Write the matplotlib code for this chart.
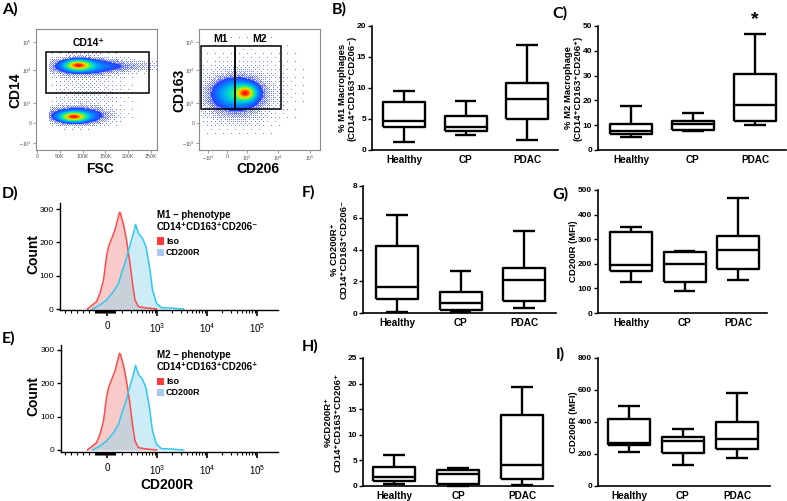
import numpy as np
import matplotlib
matplotlib.use('Agg')
import matplotlib.pyplot as plt
from matplotlib.patches import Rectangle
from matplotlib.colors import LinearSegmentedColormap, to_rgba

plt.rcParams['font.family'] = ['Liberation Sans', 'DejaVu Sans']
plt.rcParams['mathtext.fontset'] = 'custom'
plt.rcParams['mathtext.rm'] = 'Liberation Sans'

# ---------------- data ----------------
groups = ['Healthy', 'CP', 'PDAC']
# each group: [whisker low, Q1, median, Q3, whisker high]
m1_pct = [[1.34, 3.75, 4.72, 7.67, 9.54], [2.47, 3.00, 3.70, 5.47, 7.88], [1.55, 4.93, 8.15, 10.83, 17.0]]
m2_pct = [[5.2, 6.4, 7.8, 10.3, 17.7], [7.5, 8.0, 10.5, 11.5, 14.9], [9.9, 11.8, 18.2, 30.8, 46.6]]
cd200r_m1_pct = [[0.04, 0.88, 1.63, 4.19, 6.18], [0.06, 0.17, 0.63, 1.34, 2.66], [0.34, 0.75, 2.09, 2.81, 5.17]]
cd200r_m1_mfi = [[128, 170, 197, 328, 351], [89, 126, 200, 246, 254], [134, 178, 255, 311, 468]]
cd200r_m2_pct = [[0.46, 0.91, 1.70, 3.66, 6.0], [0.07, 0.46, 2.42, 3.07, 3.52], [0.13, 1.44, 4.11, 13.84, 19.4]]
cd200r_m2_mfi = [[213, 257, 269, 418, 499], [134, 207, 282, 305, 357], [173, 232, 296, 399, 580]]

# histogram curves (x in decade units: 0 -> "0", 1 -> 10^3, 2 -> 10^4, 3 -> 10^5)
iso_u = [-0.39, -0.21, -0.14, -0.07, -0.01, 0.03, 0.16, 0.25, 0.27, 0.34, 0.39, 0.46, 0.51, 0.56, 0.63, 0.79, 0.99]
iso_count = [0, 22, 47, 87, 157, 187, 237, 290, 287, 247, 207, 137, 77, 27, 7, 3, 0]
cd200r_u = [-0.29, -0.14, -0.01, 0.13, 0.23, 0.29, 0.38, 0.46, 0.53, 0.57, 0.63, 0.71, 0.78, 0.85, 0.91, 0.99, 1.09, 1.26, 1.53]
cd200r_count = [0, 12, 27, 52, 77, 107, 147, 192, 227, 254, 227, 212, 187, 127, 57, 17, 4, 3, 0]
hist_ticks = [0, 1, 2, 3]
hist_ticklabels = ['0', r'$10^3$', r'$10^4$', r'$10^5$']

# flow cytometry density clusters: (x centre, y centre, sd x, sd y, weight)
fsc_ticks = [0, 50, 100, 150, 200, 250]
fsc_labels = ['0', '50K', '100K', '150K', '200K', '250K']
bi_ticks = [7, 27, 47, 80, 108]
bi_labels = [r'$-10^3$', '0', r'$10^3$', r'$10^4$', r'$10^5$']
cd206_ticks = [9, 28, 48, 79, 111]
cd206_labels = [r'$-10^3$', '0', r'$10^3$', r'$10^4$', r'$10^5$']
cd14_clusters = [(90, 85, 18, 3.2, 1.0), (100, 84, 45, 5.5, 0.42), (195, 84, 50, 4.0, 0.12),
                 (80, 33, 18, 3.0, 1.0), (88, 34, 42, 5.5, 0.42), (110, 58, 60, 13, 0.05)]
cd163_clusters = [(47, 57, 6, 4.5, 1.0), (38, 57, 14, 9, 0.55), (35, 52, 22, 15, 0.2), (50, 68, 35, 30, 0.03)]
cd14_gate = (20, 57, 246, 98)
m1_gate = (2, 41, 36, 104)
m2_gate = (36, 41, 82, 104)

# ---------------- layout helpers ----------------
W, H = 787, 501
fig = plt.figure(figsize=(W / 100, H / 100), dpi=100)


def axes_px(x0, y0, x1, y1):
    return fig.add_axes([x0 / W, 1 - y1 / H, (x1 - x0) / W, (y1 - y0) / H])


def ftext(x, y, s, **kw):
    return fig.text(x / W, 1 - y / H, s, **kw)


BOLD = dict(fontweight='bold')

# ---------------- panel letters ----------------
for lab, x, y in [('A)', 2, 2), ('B)', 332, 2), ('C)', 552, 6), ('D)', 2, 186), ('E)', 2, 331),
                  ('F)', 302, 185), ('G)', 552, 187), ('H)', 302, 339), ('I)', 556, 347)]:
    ftext(x, y, lab, family=['Lato', 'DejaVu Sans'], fontsize=11.5, fontweight='bold', va='top', ha='left')

# ---------------- flow density plots ----------------
dens_cmap = LinearSegmentedColormap.from_list('flow', [
    (0.0, '#4a58ff'), (0.3, '#2a3cff'), (0.45, '#0090ff'), (0.58, '#00d8d0'),
    (0.68, '#30f070'), (0.78, '#b8f000'), (0.86, '#ffc800'), (0.93, '#ff6a00'), (1.0, '#ff1000')])
dot_rgba = to_rgba('#7080ff')

bayer4 = np.array([[0, 8, 2, 10], [12, 4, 14, 6], [3, 11, 1, 9], [15, 7, 13, 5]])
bayer8 = np.block([[4 * bayer4, 4 * bayer4 + 2], [4 * bayer4 + 3, 4 * bayer4 + 1]])
bayer8 = (bayer8 + 0.5) / 64.0


def density_img(ax, xlim, ylim, clusters, npx, xmin_cut=None):
    xs = np.linspace(xlim[0], xlim[1], npx)
    ys = np.linspace(ylim[0], ylim[1], npx)
    xg, yg = np.meshgrid(xs, ys)
    Z = np.zeros_like(xg)
    for cx, cy, sx, sy, w in clusters:
        Z += w * np.exp(-0.5 * (((xg - cx) / sx) ** 2 + ((yg - cy) / sy) ** 2))
    if xmin_cut is not None:
        Z = Z * (xg > xmin_cut)
    Zc = (Z / Z.max()) ** 0.6
    T = 0.3
    thr = np.tile(bayer8, (npx // 8 + 1, npx // 8 + 1))[:npx, :npx]
    solid = Zc >= T
    dots = (~solid) & ((Zc / T) ** 2.4 > thr)
    rgba = dens_cmap(np.clip(Zc, 0, 1))
    rgba[dots] = dot_rgba
    rgba[..., 3] = np.where(solid | dots, 1.0, 0.0)
    ax.imshow(rgba, extent=(xlim[0], xlim[1], ylim[0], ylim[1]), origin='lower',
              aspect='auto', interpolation='nearest')


def flow_axes(ax):
    for s in ax.spines.values():
        s.set_color('#8a8a8a')
        s.set_linewidth(0.8)
    ax.tick_params(length=2, width=0.6, color='#8a8a8a', labelsize=3.8, labelcolor='#555555', pad=1)


ax = axes_px(36, 29, 157, 150)
density_img(ax, (-2, 263), (0, 121), cd14_clusters, 121, xmin_cut=25)
ax.add_patch(Rectangle((cd14_gate[0], cd14_gate[1]), cd14_gate[2] - cd14_gate[0], cd14_gate[3] - cd14_gate[1],
                       fill=False, ec='black', lw=1.1))
ax.set_xlim(-2, 263)
ax.set_ylim(0, 121)
ax.set_xticks(fsc_ticks, fsc_labels)
ax.set_yticks(bi_ticks, bi_labels)
flow_axes(ax)
ax.text(0.5 * (cd14_gate[0] + cd14_gate[2]) - 20, cd14_gate[3] + 4, 'CD14⁺', fontsize=7.5, ha='center', va='bottom', **BOLD)
ftext(15, 90, 'CD14', rotation=90, fontsize=10, ha='center', va='center', **BOLD)
ftext(100, 169, 'FSC', fontsize=10, ha='center', va='center', **BOLD)

ax = axes_px(199, 29, 320, 150)
density_img(ax, (0, 121), (0, 121), cd163_clusters, 121)
for g in (m1_gate, m2_gate):
    ax.add_patch(Rectangle((g[0], g[1]), g[2] - g[0], g[3] - g[1], fill=False, ec='black', lw=1.1))
ax.set_xlim(0, 121)
ax.set_ylim(0, 121)
ax.set_xticks(cd206_ticks, cd206_labels)
ax.set_yticks(bi_ticks, bi_labels)
flow_axes(ax)
ax.text(0.5 * (m1_gate[0] + m1_gate[2]) + 3, m1_gate[3] + 2, 'M1', fontsize=7.5, ha='center', va='bottom', **BOLD)
ax.text(0.5 * (m2_gate[0] + m2_gate[2]) + 2, m2_gate[3] + 2, 'M2', fontsize=7.5, ha='center', va='bottom', **BOLD)
ftext(179, 90, 'CD163', rotation=90, fontsize=10, ha='center', va='center', **BOLD)
ftext(258, 169, 'CD206', fontsize=10, ha='center', va='center', **BOLD)


# ---------------- histograms ----------------
def hist_panel(rect, ylim, title_lines, title_y, show_xlabel):
    ax = axes_px(*rect)
    ax.fill_between(iso_u, iso_count, color='#f4a0a0', alpha=0.55, lw=0)
    ax.fill_between(cd200r_u, cd200r_count, color='#8fd8ef', alpha=0.45, lw=0)
    ax.plot(iso_u, iso_count, color='#ff4a4a', lw=1.1)
    ax.plot(cd200r_u, cd200r_count, color='#30c8f0', lw=1.1)
    ax.set_xlim((rect[0] - 107) / 50.0, (rect[2] - 107) / 50.0)
    ax.set_ylim(*ylim)
    for s in ('top', 'right'):
        ax.spines[s].set_visible(False)
    for s in ('left', 'bottom'):
        ax.spines[s].set_linewidth(1.0)
    ax.set_yticks([0, 100, 200, 300])
    ax.tick_params(axis='y', length=3, width=1, labelsize=6, pad=1.5)
    ax.set_xticks(hist_ticks, hist_ticklabels)
    minors = []
    for d in (0, 1, 2):
        minors += [d + np.log10(k) for k in range(2, 10)]
    minors += [-0.85 + 0.12 * i for i in range(6)]
    minors += [-0.22 + 0.02 * i for i in range(20)]
    ax.set_xticks(minors, minor=True)
    ax.tick_params(axis='x', which='major', length=4, width=1.2, labelsize=7, pad=4)
    ax.tick_params(axis='x', which='minor', length=2.2, width=0.8)
    ftext(33, 0.5 * (rect[1] + rect[3]) - 3, 'Count', rotation=90, fontsize=10, ha='center', va='center', **BOLD)
    ftext(157, title_y, title_lines[0], fontsize=7, ha='left', va='center', **BOLD)
    ftext(157, title_y + 12, title_lines[1], fontsize=7, ha='left', va='center', **BOLD)
    for i, (lab, col) in enumerate([('Iso', '#ff3c3c'), ('CD200R', '#a8c8f0')]):
        yy = title_y + 26 + 11.5 * i
        fig.patches.append(Rectangle((157 / W, 1 - (yy + 3.5) / H), 7 / W, 7 / H, transform=fig.transFigure,
                                     fc=col, ec='none'))
        ftext(166, yy, lab, fontsize=6.5, ha='left', va='center', **BOLD)
    if show_xlabel:
        ftext(167, 485, 'CD200R', fontsize=10, ha='center', va='center', **BOLD)
    return ax


hist_panel((60, 203, 278, 310), (-3, 318), ('M1 – phenotype', 'CD14⁺CD163⁺CD206⁻'), 215, False)
hist_panel((61, 345, 278, 452), (-6, 315), ('M2 – phenotype', 'CD14⁺CD163⁺CD206⁺'), 355, True)


# ---------------- box plots ----------------
def box_panel(rect, stats, ylim, yticks, centers_px, ylabel, ylabel_x, star=None):
    x0, y0, x1, y1 = rect
    spacing = (centers_px[2] - centers_px[0]) / 2.0
    xlim = (1 - (centers_px[0] - x0) / spacing, 3 + (x1 - centers_px[2]) / spacing)
    width = 42.0 / spacing
    ax = axes_px(*rect)
    st = [dict(whislo=s[0], q1=s[1], med=s[2], q3=s[3], whishi=s[4], label=g) for s, g in zip(stats, groups)]
    lp = dict(lw=1.7, color='black', solid_capstyle='butt')
    ax.bxp(st, positions=[1, 2, 3], widths=width, showfliers=False, capwidths=width * 0.52,
           boxprops=lp, medianprops=lp, whiskerprops=lp, capprops=lp)
    for a in ax.lines:
        a.set_clip_on(False)
    ax.set_xlim(*xlim)
    ax.set_ylim(*ylim)
    for s in ('top', 'right'):
        ax.spines[s].set_visible(False)
    for s in ('left', 'bottom'):
        ax.spines[s].set_linewidth(1.2)
    ax.set_yticks(yticks)
    ax.tick_params(axis='y', length=3, width=1, labelsize=6, pad=1.2)
    ax.tick_params(axis='x', length=0, labelsize=7.2, pad=3.5)
    for t in ax.get_xticklabels() + ax.get_yticklabels():
        t.set_fontweight('bold')
    ftext(ylabel_x, 0.5 * (y0 + y1), ylabel, rotation=90, fontsize=6.8, ha='center', va='center',
          linespacing=1.12, **BOLD)
    if star is not None:
        ax.text(3, star, '*', fontsize=14, ha='center', va='center', clip_on=False, **BOLD)
    return ax


box_panel((372, 26, 558, 150), m1_pct, (0, 20), [0, 5, 10, 15, 20], (404, 466, 527),
          '% M1 Macrophages\n(CD14⁺CD163⁺CD206⁻)', 347)
box_panel((598, 26, 786, 150), m2_pct, (0, 50), [0, 10, 20, 30, 40, 50], (631, 692, 755),
          '% M2 Macrophage\n(CD14⁺CD163⁺CD206⁺)', 573, star=52.5)
box_panel((363, 186, 556, 313), cd200r_m1_pct, (0, 8), [0, 2, 4, 6, 8], (397, 460, 524),
          '% CD200R⁺\nCD14⁺CD163⁺CD206⁻', 339)
box_panel((598, 190, 767, 313), cd200r_m1_mfi, (0, 500), [0, 100, 200, 300, 400, 500], (631, 684, 738),
          'CD200R (MFI)', 573)
box_panel((363, 358, 553, 486), cd200r_m2_pct, (0, 25), [0, 5, 10, 15, 20, 25], (394, 458, 522),
          '%CD200R⁺\nCD14⁺CD163⁺CD206⁺', 333)
box_panel((598, 358, 770, 486), cd200r_m2_mfi, (0, 800), [0, 200, 400, 600, 800], (629, 682, 737),
          'CD200R (MFI)', 573)

fig.savefig('out.png', dpi=100)
